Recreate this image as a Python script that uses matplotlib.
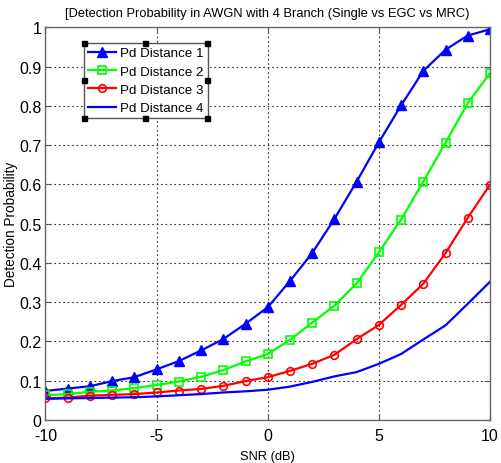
import matplotlib
matplotlib.use("Agg")
import matplotlib.pyplot as plt
from matplotlib.patches import Rectangle

plt.rcParams['font.family'] = ['Liberation Sans', 'DejaVu Sans']
plt.rcParams['axes.unicode_minus'] = False

snr = list(range(-10, 11))
pd1 = [0.074, 0.080, 0.086, 0.099, 0.109, 0.129, 0.150, 0.177, 0.206, 0.245, 0.287,
       0.354, 0.425, 0.512, 0.607, 0.707, 0.801, 0.889, 0.943, 0.979, 0.995]
pd2 = [0.063, 0.066, 0.072, 0.075, 0.081, 0.089, 0.098, 0.110, 0.127, 0.149, 0.168,
       0.204, 0.248, 0.291, 0.348, 0.427, 0.510, 0.607, 0.706, 0.807, 0.883]
pd3 = [0.055, 0.057, 0.062, 0.064, 0.066, 0.070, 0.075, 0.079, 0.087, 0.099, 0.109,
       0.125, 0.143, 0.166, 0.206, 0.242, 0.293, 0.347, 0.425, 0.515, 0.599]
pd4 = [0.054, 0.055, 0.056, 0.057, 0.058, 0.060, 0.063, 0.066, 0.070, 0.073, 0.077,
       0.085, 0.097, 0.111, 0.122, 0.143, 0.168, 0.205, 0.241, 0.296, 0.352]
labels = ['Pd Distance 1', 'Pd Distance 2', 'Pd Distance 3', 'Pd Distance 4']
title = '[Detection Probability in AWGN with 4 Branch (Single vs EGC vs MRC)'

fig = plt.figure(figsize=(5.01, 4.64), dpi=100)
ax = fig.add_axes([0.0908, 0.0927, 0.978 - 0.0908, 0.939 - 0.0927])

ax.plot(snr, pd1, color='#0000ff', lw=1.6, marker='^', ms=7, mfc='#0000ff', mec='#0000ff', label=labels[0])
ax.plot(snr, pd2, color='#00ff00', lw=1.6, marker='s', ms=6, mfc='none', mec='#00ff00', mew=1.2, label=labels[1])
ax.plot(snr, pd3, color='#ff0000', lw=1.6, marker='o', ms=5.5, mfc='none', mec='#ff0000', mew=1.2, label=labels[2])
ax.plot(snr, pd4, color='#0000ff', lw=1.6, label=labels[3])

ax.set_xlim(-10, 10)
ax.set_ylim(0, 1)
ax.set_xticks([-10, -5, 0, 5, 10])
ax.set_yticks([0, 0.1, 0.2, 0.3, 0.4, 0.5, 0.6, 0.7, 0.8, 0.9, 1])
ax.set_yticklabels(['0', '0.1', '0.2', '0.3', '0.4', '0.5', '0.6', '0.7', '0.8', '0.9', '1'])
ax.tick_params(direction='in', labelsize=11.5, length=4, color='#555555',
               top=True, right=True)
ax.tick_params(axis='x', pad=6)
ax.tick_params(axis='y', pad=3)
ax.grid(True, color='#333333', linestyle=(0, (1.5, 2.5)), linewidth=0.8)
for s in ax.spines.values():
    s.set_color('#666666')
    s.set_linewidth(1.0)

ax.set_title(title, fontsize=9.3, pad=8)
ax.set_xlabel('SNR (dB)', fontsize=9.3, labelpad=5)
ax.set_ylabel('Detection Probability', fontsize=9.8, labelpad=1)

leg = ax.legend(loc='upper left', bbox_to_anchor=(0.087, 0.96), fontsize=9.6,
                handlelength=2.1, handletextpad=0.3, labelspacing=0.45,
                borderpad=0.3, fancybox=False, framealpha=1, borderaxespad=0)
leg.get_frame().set_edgecolor('#555555')
leg.get_frame().set_linewidth(1.0)

fig.canvas.draw()
bb = leg.get_window_extent()
x0, y0, x1, y1 = bb.x0, bb.y0, bb.x1, bb.y1
xm, ym = (x0 + x1) / 2, (y0 + y1) / 2
W, H = fig.bbox.width, fig.bbox.height
hs = 5
for (px, py) in [(x0, y0), (xm, y0), (x1, y0), (x0, ym), (x1, ym), (x0, y1), (xm, y1), (x1, y1)]:
    fig.patches.append(Rectangle(((px - hs / 2) / W, (py - hs / 2) / H), hs / W, hs / H,
                                 transform=fig.transFigure, facecolor='black',
                                 edgecolor='black', zorder=10))

fig.savefig('out.png', dpi=100)
